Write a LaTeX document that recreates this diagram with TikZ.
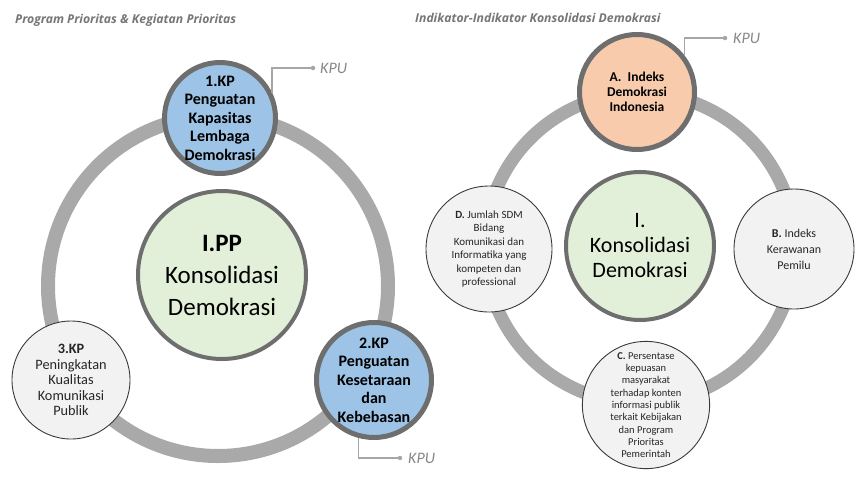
\documentclass[tikz,border=0pt]{standalone}
\usepackage{fontspec}
\setmainfont{Carlito}
\newfontfamily\ttlfont{Open Sans}
\definecolor{ringgray}{HTML}{A9A9A9}
\definecolor{bordergray}{HTML}{6E6E6E}
\definecolor{bluefill}{HTML}{9DC3E6}
\definecolor{orangefill}{HTML}{F8CBAD}
\definecolor{greenfill}{HTML}{E2EFD9}
\definecolor{lightfill}{HTML}{F2F2F2}
\definecolor{darkline}{HTML}{3A3A3A}
\definecolor{calloutgray}{HTML}{A6A6A6}
\definecolor{kpugray}{HTML}{878787}
\definecolor{titlegray}{HTML}{767676}
\definecolor{smalltext}{HTML}{262626}
\begin{document}
\begin{tikzpicture}[x=1pt,y=-1pt,
  ringline/.style={draw=ringgray, line width=14pt},
  thickc/.style={circle, inner sep=0pt, align=center, draw=bordergray, line width=4.5pt, text=black},
  thinc/.style={circle, inner sep=0pt, align=center, draw=darkline, line width=0.9pt, fill=lightfill, text=smalltext},
  callout/.style={draw=calloutgray, line width=1.3pt},
  kpudot/.style={circle, fill=calloutgray, inner sep=0pt, minimum size=4.5pt},
  kputext/.style={font=\fontsize{16}{18}\selectfont\itshape, text=kpugray, anchor=west, inner sep=0pt},
  ttl/.style={font=\ttlfont\fontsize{12.2}{14}\selectfont\bfseries\itshape, text=titlegray, anchor=west, inner sep=0pt}
]
\useasboundingbox (0,0) rectangle (857,483);

% titles
\node[ttl] (t1) at (15,20) {Program Prioritas \& Kegiatan Prioritas};
\node[ttl] (t2) at (415,18) {Indikator-Indikator Konsolidasi Demokrasi};

% ---------- left diagram ----------
\draw[ringline] (218,286) circle[radius=170];
\node[thickc, fill=greenfill, line width=4pt, minimum size=168pt,
      font=\fontsize{25}{32}\selectfont] (ipp) at (222,275)
      {\textbf{I.PP}\\Konsolidasi\\Demokrasi};
\node[thickc, fill=bluefill, line width=5pt, minimum size=111pt,
      font=\fontsize{16}{18.5}\selectfont\bfseries] (kp1) at (220,118)
      {1.KP\\Penguatan\\Kapasitas\\Lembaga\\Demokrasi};
\node[thickc, fill=bluefill, line width=5pt, minimum size=115pt,
      font=\fontsize{16}{18.5}\selectfont\bfseries] (kp2) at (374,380)
      {2.KP\\Penguatan\\Kesetaraan\\dan\\Kebebasan};
\node[thinc, minimum size=118pt, font=\fontsize{14.3}{15.5}\selectfont] (kp3) at (71,380)
      {\textbf{3.KP}\\Peningkatan\\Kualitas\\Komunikasi\\Publik};

\node[kpudot] (d1) at (313,68) {};
\node[kputext] (k1) at (320,68) {KPU};
\draw[callout] (kp1.26) |- (d1);
\node[kpudot] (d2) at (400,458) {};
\node[kputext] (k2) at (408,458) {KPU};
\draw[callout] (kp2.255) |- (d2);

% ---------- right diagram ----------
\draw[ringline, line width=13pt] (640,248) circle[radius=155];
\node[thickc, fill=greenfill, line width=4pt, minimum size=148pt,
      font=\fontsize{22}{25}\selectfont] (ik) at (640,246)
      {I.\\Konsolidasi\\Demokrasi};
\node[thickc, fill=orangefill, line width=5pt, minimum size=115pt,
      font=\fontsize{13.5}{15}\selectfont\bfseries] (a) at (637,92)
      {A.\ \ Indeks\\Demokrasi\\Indonesia};
\node[thinc, minimum size=120pt, font=\fontsize{12}{16}\selectfont] (b) at (794,249)
      {\textbf{B.} Indeks\\Kerawanan\\Pemilu};
\node[thinc, minimum size=124pt, font=\fontsize{10.5}{12.3}\selectfont] (c) at (646,405)
      {\textbf{C.} Persentase\\kepuasan\\masyarakat\\terhadap konten\\informasi publik\\terkait Kebijakan\\dan Program\\Prioritas\\Pemerintah};
\node[thinc, minimum size=126pt, font=\fontsize{11}{13.5}\selectfont] (d) at (489,249)
      {\textbf{D.} Jumlah SDM\\Bidang\\Komunikasi dan\\Informatika yang\\kompeten dan\\professional};

\node[kpudot] (d3) at (725,38) {};
\node[kputext] (k3) at (733,38) {KPU};
\draw[callout] (a.38) |- (d3);
\end{tikzpicture}
\end{document}
